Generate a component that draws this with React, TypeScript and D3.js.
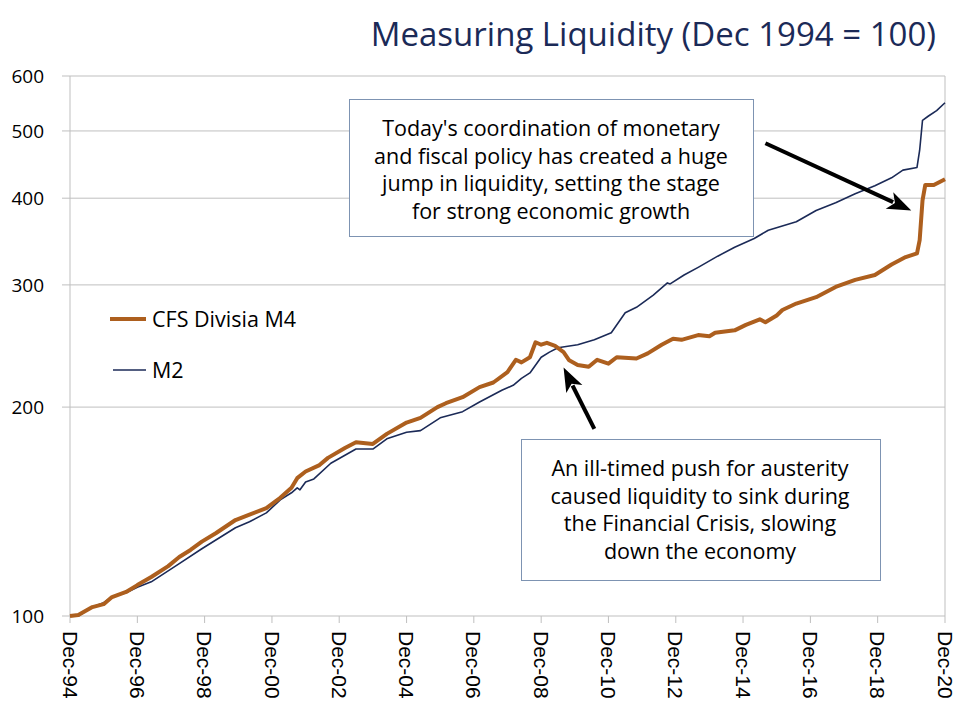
import React from "react";
import * as d3 from "d3";

// values (Dec 1994 = 100)
const m4Dates = [
  "1994-12", "1995-03", "1995-08", "1995-12", "1996-03", "1996-08", "1996-12", "1997-05",
  "1997-11", "1998-03", "1998-07", "1998-11", "1999-04", "1999-11", "2000-04", "2000-10",
  "2001-03", "2001-07", "2001-09", "2001-12", "2002-05", "2002-08", "2003-02", "2003-06",
  "2003-12", "2004-05", "2004-12", "2005-05", "2005-11", "2006-02", "2006-08", "2007-02",
  "2007-07", "2007-12", "2008-03", "2008-05", "2008-08", "2008-10", "2008-12", "2009-02",
  "2009-05", "2009-08", "2009-10", "2010-01", "2010-05", "2010-08", "2010-12", "2011-03",
  "2011-10", "2012-02", "2012-07", "2012-11", "2013-02", "2013-08", "2013-12", "2014-02",
  "2014-09", "2015-01", "2015-06", "2015-08", "2015-12", "2016-02", "2016-07", "2017-02",
  "2017-09", "2018-04", "2018-11", "2019-05", "2019-10", "2020-02", "2020-03", "2020-04",
  "2020-05", "2020-08", "2020-12",
];
const m4Values = [
  100, 100.3, 103, 104, 106.5, 108.3, 110.8, 113.8,
  118, 121.6, 124.5, 128, 131.6, 137.5, 140, 143,
  148, 153, 158, 161.5, 165, 169, 174.6, 178,
  177, 183, 190, 193, 200, 202.6, 206.7, 213.7,
  217, 224.6, 234, 232, 236, 248, 246, 247.5,
  245, 240, 233.6, 230, 228.6, 234, 231, 236,
  235, 239, 246, 251, 250, 254, 253, 256,
  258, 262.7, 267.6, 265, 271, 276, 282, 288,
  298, 305, 310, 321, 329, 333, 348, 397,
  418, 418, 426,
];

const m2Dates = [
  "1994-12", "1995-03", "1995-08", "1995-12", "1996-03", "1996-08", "1996-12", "1997-05",
  "1998-03", "1998-11", "1999-11", "2000-04", "2000-10", "2001-03", "2001-07", "2001-09",
  "2001-10", "2001-12", "2002-03", "2002-09", "2003-06", "2003-12", "2004-05", "2004-12",
  "2005-05", "2005-12", "2006-08", "2007-02", "2007-10", "2008-02", "2008-05", "2008-08",
  "2008-12", "2009-03", "2009-06", "2010-01", "2010-07", "2011-01", "2011-06", "2011-10",
  "2012-04", "2012-09", "2012-10", "2013-03", "2013-08", "2014-03", "2014-09", "2015-04",
  "2015-09", "2016-07", "2017-02", "2017-09", "2018-04", "2018-11", "2019-05", "2019-09",
  "2020-02", "2020-03", "2020-04", "2020-06", "2020-09", "2020-12",
];
const m2Values = [
  100, 100, 103, 104.5, 106.5, 108, 110, 112,
  119, 125, 134, 136.7, 140.8, 147, 150.5, 153,
  152, 156, 157.6, 166, 174, 174, 180, 184,
  185, 193, 197, 203.4, 211.5, 215, 220, 224,
  236, 240, 243.5, 246, 250, 256, 273.5, 278.5,
  290, 302, 301, 310, 318, 330, 340, 350,
  359.6, 370, 384, 394, 406, 417, 428, 439,
  443, 469, 518, 525, 535, 549,
];

const yTicks = [100, 200, 300, 400, 500, 600];
const yGrid = [200, 300, 400, 500, 600];
const xTickYears = [1994, 1996, 1998, 2000, 2002, 2004, 2006, 2008, 2010, 2012, 2014, 2016, 2018, 2020];

const note1 = [
  "Today's coordination of monetary",
  "and fiscal policy has created a huge",
  "jump in liquidity, setting the stage",
  "for strong economic growth",
];
const note2 = [
  "An ill-timed push for austerity",
  "caused liquidity to sink during",
  "the Financial Crisis, slowing",
  "down the economy",
];
// arrows in data space: [tailDate, tailValue, tipDate, tipValue]
const arrow1: [string, number, string, number] = ["2015-08", 480, "2019-12", 384];
const arrow2: [string, number, string, number] = ["2010-07", 186, "2009-08", 228];

const W = 959;
const H = 711;
const ORANGE = "#ad5f1e";
const NAVY = "#1b2a57";
const GRID = "#bfbfbf";
const FONT = "'Open Sans', sans-serif";

const parse = d3.timeParse("%Y-%m");

export default function App() {
  const x = d3
    .scaleTime()
    .domain([new Date(1994, 11, 1), new Date(2020, 11, 1)])
    .range([70, 945]);
  const y = d3.scaleLog().domain([100, 600]).range([616, 76]);

  const line = d3
    .line<[Date, number]>()
    .x((d) => x(d[0]))
    .y((d) => y(d[1]))
    .curve(d3.curveLinear);

  const m4 = m4Dates.map((d, i) => [parse(d)!, m4Values[i]] as [Date, number]);
  const m2 = m2Dates.map((d, i) => [parse(d)!, m2Values[i]] as [Date, number]);

  const arrow = (a: [string, number, string, number], key: string) => {
    const x1 = x(parse(a[0])!);
    const y1 = y(a[1]);
    const x2 = x(parse(a[2])!);
    const y2 = y(a[3]);
    const ang = Math.atan2(y2 - y1, x2 - x1);
    const len = 24;
    const half = 9;
    const bx = x2 - len * Math.cos(ang);
    const by = y2 - len * Math.sin(ang);
    const px = -Math.sin(ang) * half;
    const py = Math.cos(ang) * half;
    return (
      <g key={key}>
        <line x1={x1} y1={y1} x2={bx + 4 * Math.cos(ang)} y2={by + 4 * Math.sin(ang)} stroke="#000" strokeWidth={4} />
        <polygon points={`${x2},${y2} ${bx + px},${by + py} ${bx + 6 * Math.cos(ang)},${by + 6 * Math.sin(ang)} ${bx - px},${by - py}`} fill="#000" />
      </g>
    );
  };

  return (
    <svg width={W} height={H} style={{ position: "absolute", left: 0, top: 0, background: "#fff" }}>
      <rect width={W} height={H} fill="#fff" />
      <text x={936} y={46} textAnchor="end" fontFamily={FONT} fontSize={33} fill={NAVY}>
        Measuring Liquidity (Dec 1994 = 100)
      </text>

      {yGrid.map((v) => (
        <line key={v} x1={70} x2={945} y1={y(v)} y2={y(v)} stroke={GRID} strokeWidth={1} />
      ))}
      {yTicks.map((v) => (
        <g key={"t" + v}>
          <line x1={62} x2={70} y1={y(v)} y2={y(v)} stroke={GRID} />
          <text x={44} y={y(v)} dy="0.35em" textAnchor="end" fontFamily={FONT} fontSize={19} fill="#000">
            {v}
          </text>
        </g>
      ))}
      <line x1={70} x2={70} y1={y(600)} y2={y(100)} stroke={GRID} />
      <line x1={945} x2={945} y1={y(600)} y2={y(100)} stroke={GRID} />
      <line x1={70} x2={945} y1={y(100)} y2={y(100)} stroke={GRID} />
      {xTickYears.map((yr) => {
        const px = x(new Date(yr, 11, 1));
        return (
          <g key={yr}>
            <line x1={px} x2={px} y1={616} y2={623} stroke={GRID} />
            <text
              transform={`translate(${px},631) rotate(90)`}
              dy="0.35em"
              fontFamily="'Liberation Sans', Arial, sans-serif"
              fontSize={21}
              fill="#000"
            >
              {`Dec-${String(yr).slice(2)}`}
            </text>
          </g>
        );
      })}

      <path d={line(m2) ?? ""} fill="none" stroke={NAVY} strokeWidth={1.6} strokeLinejoin="round" />
      <path d={line(m4) ?? ""} fill="none" stroke={ORANGE} strokeWidth={4} strokeLinejoin="round" />

      {/* legend */}
      <line x1={110} x2={146} y1={319} y2={319} stroke={ORANGE} strokeWidth={4} />
      <text x={152} y={327} fontFamily={FONT} fontSize={21.5} fill="#000">CFS Divisia M4</text>
      <line x1={113} x2={146} y1={370} y2={370} stroke={NAVY} strokeWidth={1.6} />
      <text x={152} y={378} fontFamily={FONT} fontSize={21.5} fill="#000">M2</text>

      {/* annotations */}
      <rect x={349.5} y={99.5} width={404} height={137} fill="#fff" stroke="#7d93b2" />
      {note1.map((t, i) => (
        <text key={t} x={551} y={136 + i * 27.7} textAnchor="middle" fontFamily={FONT} fontSize={21.5} fill="#000">
          {t}
        </text>
      ))}
      <rect x={521.5} y={439.5} width={359} height={141} fill="#fff" stroke="#7d93b2" />
      {note2.map((t, i) => (
        <text key={t} x={700} y={476 + i * 27.7} textAnchor="middle" fontFamily={FONT} fontSize={21.5} fill="#000">
          {t}
        </text>
      ))}
      {arrow(arrow1, "a1")}
      {arrow(arrow2, "a2")}
    </svg>
  );
}
